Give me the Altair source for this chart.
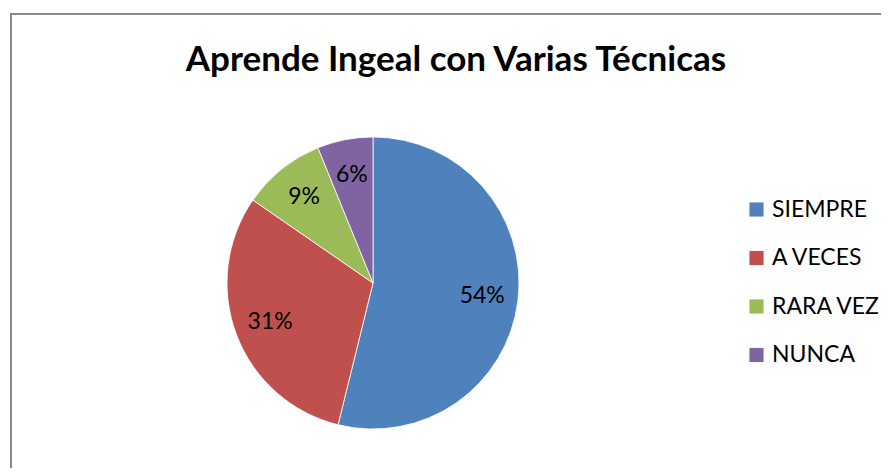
import altair as alt
import pandas as pd

categories = ["SIEMPRE", "A VECES", "RARA VEZ", "NUNCA"]
counts = [35, 20, 6, 4]
labels = ["54%", "31%", "9%", "6%"]
colors = ["#4F81BD", "#C0504D", "#9BBB59", "#8064A2"]
title_text = "Aprende Ingeal con Varias Técnicas"

df = pd.DataFrame({"cat": categories, "n": counts, "label": labels, "ord": list(range(len(categories)))})

CX, CY, R = 365, 275, 146
FONT = "Lato"

color_scale = alt.Scale(domain=categories, range=colors)

pie = alt.Chart(df).mark_arc(outerRadius=R, stroke="white", strokeWidth=0.8).encode(
    theta=alt.Theta("n:Q", stack=True),
    color=alt.Color("cat:N", scale=color_scale, sort=categories,
                    legend=alt.Legend(title=None, orient="none", legendX=737, legendY=190,
                                      symbolType="square", symbolSize=200, symbolStrokeWidth=0,
                                      labelFont=FONT, labelFontSize=23, labelColor="#000000",
                                      labelOffset=4, rowPadding=24.5, padding=0)),
    order=alt.Order("ord:Q"),
    x=alt.value(CX), y=alt.value(CY),
)

text = alt.Chart(df).mark_text(radius=110, font=FONT, fontSize=23, color="#000000",
                               align="center", baseline="middle").encode(
    theta=alt.Theta("n:Q", stack=True),
    order=alt.Order("ord:Q"),
    text="label:N",
    x=alt.value(CX), y=alt.value(CY),
)

title_df = pd.DataFrame({"t": [title_text]})
title = alt.Chart(title_df).mark_text(font=FONT, fontSize=35, fontWeight="bold", color="#000000",
                                      align="center", baseline="alphabetic").encode(
    text="t:N", x=alt.value(448), y=alt.value(63))

border_df = pd.DataFrame({"k": [0]})
left_rule = alt.Chart(border_df).mark_rule(color="#898989", strokeWidth=2).encode(
    x=alt.value(3), y=alt.value(5), y2=alt.value(1000))
top_rule = alt.Chart(border_df).mark_rule(color="#898989", strokeWidth=2).encode(
    x=alt.value(2), x2=alt.value(1000), y=alt.value(6))

chart = alt.layer(left_rule, top_rule, pie, text, title).properties(
    width=873, height=460, autosize=alt.AutoSizeParams(type="none"), padding=0
).configure_view(stroke=None)

chart.save("out.html", embed_options={"renderer": "svg", "actions": False})
